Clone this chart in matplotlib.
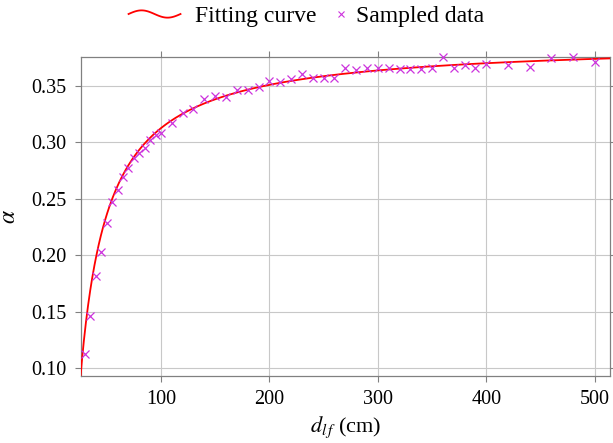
import numpy as np
import matplotlib
matplotlib.use("Agg")
import matplotlib.pyplot as plt
from matplotlib.legend_handler import HandlerLine2D
from matplotlib.lines import Line2D

# donnees
dist_cm = [30, 35, 40, 45, 50, 55, 60, 65, 70, 75, 80, 85, 90, 95, 100,
           110, 120, 130, 140, 150, 160, 170, 180, 190, 200,
           210, 220, 230, 240, 250, 260, 270, 280, 290, 300,
           310, 320, 330, 340, 350, 360, 370, 380, 390, 400,
           420, 440, 460, 480, 500]
alpha_vals = [0.1127, 0.1463, 0.1817, 0.2033, 0.2289, 0.2470, 0.2579, 0.2697, 0.2771, 0.2860,
              0.2904, 0.2954, 0.3022, 0.3066, 0.3086,
              0.3170, 0.3258, 0.3296, 0.3382, 0.3414, 0.3405, 0.3465, 0.3465, 0.3488, 0.3544,
              0.3538, 0.3562, 0.3604, 0.3568, 0.3574, 0.3571, 0.3662, 0.3642, 0.3657, 0.3662,
              0.3662, 0.3651, 0.3651, 0.3651, 0.3662, 0.3759, 0.3657, 0.3686, 0.3657, 0.3695,
              0.3686, 0.3671, 0.3745, 0.3759, 0.3715]
x_ticks = [100, 200, 300, 400, 500]
y_ticks = [0.10, 0.15, 0.20, 0.25, 0.30, 0.35]

# parametres de la courbe d'ajustement : alpha = a - b / d
fit_a = 0.3894
fit_b = 7.67

plt.rcParams['font.family'] = ['Liberation Serif', 'DejaVu Serif']
plt.rcParams['mathtext.fontset'] = 'stix'

x = np.array(dist_cm, dtype=float)
y = np.array(alpha_vals)
x_fit = np.linspace(25, 515, 500)
y_fit = fit_a - fit_b / x_fit


class WavyHandler(HandlerLine2D):
    # petite vague comme dans la legende pgfplots
    def create_artists(self, legend, orig_handle, xdescent, ydescent,
                       width, height, fontsize, trans):
        t = np.linspace(0, 1, 60)
        xs = -xdescent + t * width
        ys = -ydescent + height / 2 + 0.22 * height * np.sin(2 * np.pi * t)
        line = Line2D(xs, ys, color=orig_handle.get_color(),
                      lw=orig_handle.get_linewidth())
        line.set_transform(trans)
        return [line]


class RightMarkerHandler(HandlerLine2D):
    # le marqueur est colle au texte
    def create_artists(self, legend, orig_handle, xdescent, ydescent,
                       width, height, fontsize, trans):
        mk = Line2D([-xdescent + width - 1], [-ydescent + height / 2],
                    ls='none', marker='x', color=orig_handle.get_color(),
                    ms=4, mew=0.8)
        mk.set_transform(trans)
        return [mk]


fig = plt.figure(figsize=(6.13, 4.43), dpi=100)
ax = fig.add_axes([0.1316, 0.1512, 0.9951 - 0.1316, 0.8713 - 0.1512])

curve, = ax.plot(x_fit, y_fit, color='red', lw=1.3, label='Fitting curve', zorder=3)
pts, = ax.plot(x, y, ls='none', marker='x', color='#cc33dd', ms=5.5, mew=0.9,
               label='Sampled data', zorder=4, clip_on=False)

ax.set_xlim(26, 514)
ax.set_ylim(0.0932, 0.3757)
ax.set_xticks(x_ticks)
ax.set_yticks(y_ticks)
ax.set_yticklabels([f"{v:.2f}" for v in y_ticks])
ax.grid(True, color='#c8c8c8', lw=0.8)
ax.set_axisbelow(True)

for s in ax.spines.values():
    s.set_color('#808080')
    s.set_linewidth(0.9)
ax.tick_params(direction='out', length=4, width=0.8, color='#808080',
               labelsize=14.5, top=True, right=True)
ax.tick_params(axis='x', pad=6)
ax.tick_params(axis='y', pad=6)

ax.set_xlabel(r'$d_{l\,f}$ (cm)', fontsize=16, labelpad=4)
ax.set_ylabel(r'$\alpha$', fontsize=17, labelpad=8)

fig.legend(handles=[curve, pts], loc='upper center', bbox_to_anchor=(0.5, 1.035),
           ncol=2, frameon=False, fontsize=17, handlelength=2.2,
           columnspacing=-1.1, handletextpad=0.6,
           handler_map={curve: WavyHandler(), pts: RightMarkerHandler()})

fig.savefig('out.png', dpi=100)
